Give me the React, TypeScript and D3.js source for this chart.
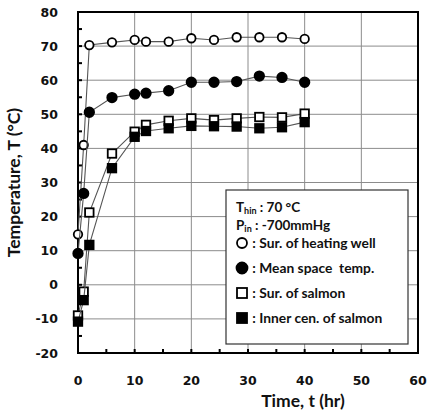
import * as d3 from "d3";

const hours = [0, 1, 2, 6, 10, 12, 16, 20, 24, 28, 32, 36, 40];
const heatingWell = [14.8, 41, 70.3, 71.1, 71.8, 71.3, 71.3, 72.3, 71.8, 72.6, 72.6, 72.6, 72.1];
const meanSpace = [9.2, 26.8, 50.6, 54.9, 55.9, 56.2, 56.9, 59.4, 59.4, 59.6, 61.2, 60.8, 59.4];
const salmonSurface = [-9, -2, 21.2, 38.5, 44.9, 46.9, 48.1, 48.8, 48.3, 48.8, 49.2, 49.1, 50.2];
const salmonCenter = [-10.8, -4.5, 11.7, 34.2, 43.4, 45.1, 45.9, 46.6, 46.5, 46.4, 45.9, 46.2, 47.7];

const xTicks = [0, 10, 20, 30, 40, 50, 60];
const yTicks = [-20, -10, 0, 10, 20, 30, 40, 50, 60, 70, 80];

const seriesList = [
	{ name: "Sur. of heating well", values: heatingWell, shape: "circle", filled: false },
	{ name: "Mean space  temp.", values: meanSpace, shape: "circle", filled: true },
	{ name: "Sur. of salmon", values: salmonSurface, shape: "square", filled: false },
	{ name: "Inner cen. of salmon", values: salmonCenter, shape: "square", filled: true }
];

const W = 427;
const H = 413;
const left = 78;
const right = 418;
const top = 12;
const bottom = 353;

const tickFont = "'DejaVu Sans', Verdana, sans-serif";
const labelFont = "Lato, 'Open Sans', sans-serif";

const Marker = ({ shape, filled, x, y, size }) => {
	if (shape === "circle") {
		return (
			<circle
				cx={x}
				cy={y}
				r={filled ? size / 2 + 0.5 : size / 2}
				fill={filled ? "#000" : "#fff"}
				stroke="#000"
				strokeWidth={1.8}
			/>
		);
	}
	return (
		<rect
			x={x - size / 2}
			y={y - size / 2}
			width={size}
			height={size}
			fill={filled ? "#000" : "#fff"}
			stroke="#000"
			strokeWidth={1.8}
		/>
	);
};

export default function App() {
	const x = d3.scaleLinear().domain([0, 60]).range([left, right]);
	const y = d3.scaleLinear().domain([-20, 80]).range([bottom, top]);

	const line = d3
		.line<number>()
		.x((d, i) => x(hours[i]))
		.y(d => y(d));

	const minorX = d3.range(5, 60, 5);
	const minorY = d3.range(-15, 80, 5);

	const legendX = 226;
	const legendY = 190;

	return (
		<svg
			width={W}
			height={H}
			style={{ position: "absolute", left: 0, top: 0, background: "#fff" }}
		>
			<rect width={W} height={H} fill="#fff" />

			{/* grid */}
			{xTicks.slice(1, -1).map(t => (
				<line key={"gx" + t} x1={x(t)} x2={x(t)} y1={top} y2={bottom} stroke="#8c8c8c" strokeWidth={1} />
			))}
			{yTicks.slice(1, -1).map(t => (
				<line key={"gy" + t} x1={left} x2={right} y1={y(t)} y2={y(t)} stroke="#8c8c8c" strokeWidth={1} />
			))}

			{/* minor ticks */}
			{minorX.map(t => (
				<line key={"mx" + t} x1={x(t)} x2={x(t)} y1={bottom} y2={bottom - 4} stroke="#000" strokeWidth={2} />
			))}
			{minorY.map(t => (
				<line key={"my" + t} x1={left} x2={left + 4} y1={y(t)} y2={y(t)} stroke="#000" strokeWidth={2} />
			))}

			{/* frame */}
			<rect x={left} y={top} width={right - left} height={bottom - top} fill="none" stroke="#000" strokeWidth={2} />

			{/* tick labels */}
			{yTicks.map(t => (
				<text
					key={"ty" + t}
					x={58}
					y={y(t)}
					dy="0.36em"
					textAnchor="end"
					fontFamily={tickFont}
					fontWeight="bold"
					fontSize={12.5}
					fill="#111"
				>
					{t}
				</text>
			))}
			{xTicks.map(t => (
				<text
					key={"tx" + t}
					x={x(t)}
					y={385}
					textAnchor="middle"
					fontFamily={tickFont}
					fontWeight="bold"
					fontSize={12.5}
					fill="#111"
				>
					{t}
				</text>
			))}

			{/* axis titles */}
			<text
				transform={`translate(20, ${(top + bottom) / 2}) rotate(-90)`}
				textAnchor="middle"
				fontFamily={labelFont}
				fontWeight="bold"
				fontSize={17.5}
				fill="#111"
			>
				Temperature, T (°C)
			</text>
			<text x={303} y={407} textAnchor="middle" fontFamily={labelFont} fontWeight="bold" fontSize={17.5} fill="#111">
				Time, t (hr)
			</text>

			{/* series */}
			{seriesList.map(s => (
				<g key={s.name}>
					<path d={line(s.values)} fill="none" stroke="#555" strokeWidth={1.1} />
					{s.values.map((v, i) => (
						<Marker key={i} shape={s.shape} filled={s.filled} x={x(hours[i])} y={y(v)} size={8.5} />
					))}
				</g>
			))}

			{/* legend */}
			<rect x={legendX} y={legendY} width={182} height={154} fill="#fff" stroke="#333" strokeWidth={1.2} />
			<text x={236} y={212} fontFamily={labelFont} fontWeight="bold" fontSize={13.5} fill="#111">
				T<tspan fontSize={9} dy={2}>hin</tspan>
				<tspan dy={-2}> : 70 °C</tspan>
			</text>
			<text x={236} y={230} fontFamily={labelFont} fontWeight="bold" fontSize={13.5} fill="#111">
				P<tspan fontSize={9} dy={2}>in</tspan>
				<tspan dy={-2}> : -700mmHg</tspan>
			</text>
			{seriesList.map((s, i) => {
				const cy = 243 + i * 25;
				return (
					<g key={"lg" + s.name}>
						<Marker shape={s.shape} filled={s.filled} x={242} y={cy} size={10} />
						<text x={249} y={cy} dy="0.36em" fontFamily={labelFont} fontWeight="bold" fontSize={13.8} fill="#111" xmlSpace="preserve">
							{" : " + s.name}
						</text>
					</g>
				);
			})}
		</svg>
	);
}
